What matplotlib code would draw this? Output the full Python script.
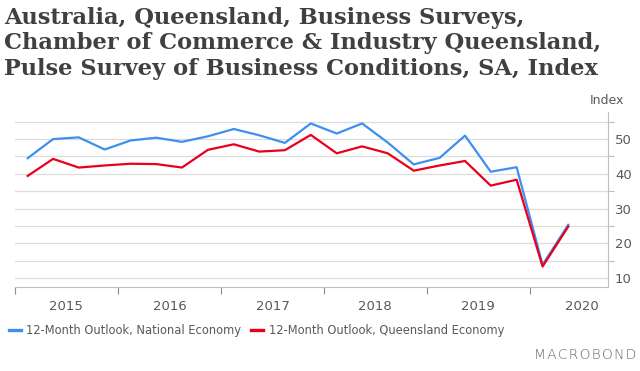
import numpy as np
import pandas as pd
import matplotlib
matplotlib.use("Agg")
import matplotlib.pyplot as plt
import matplotlib.dates as mdates
from matplotlib.ticker import MultipleLocator, NullFormatter

# Quarterly observations, 2015 Q1 .. 2020 Q2 (plotted mid-quarter)
dates = pd.date_range("2015-01-01", periods=22, freq="QS") + pd.Timedelta(days=45)

national = [44.5, 50.0, 50.5, 47.0, 49.6, 50.4, 49.2, 50.8, 52.9, 51.1, 48.9, 54.5,
            51.6, 54.5, 49.0, 42.7, 44.6, 51.0, 40.6, 41.9, 13.8, 25.3]
queensland = [39.4, 44.3, 41.8, 42.4, 42.9, 42.8, 41.8, 46.9, 48.5, 46.4, 46.8, 51.2,
              45.9, 47.9, 45.9, 40.9, 42.4, 43.7, 36.6, 38.3, 13.3, 24.8]

years = [2015, 2016, 2017, 2018, 2019, 2020]

BLUE = "#3d8ff0"
RED = "#e8001c"
GREY_TXT = "#595959"
GRID = "#dcdcdc"

fig = plt.figure(figsize=(6.4, 3.71), dpi=100)
ax = fig.add_axes([15 / 640, 1 - 287 / 371, (608 - 15) / 640, (287 - 112) / 371])

ax.plot(dates, national, color=BLUE, linewidth=1.6, label="12-Month Outlook, National Economy")
ax.plot(dates, queensland, color=RED, linewidth=1.6, label="12-Month Outlook, Queensland Economy")

ax.set_ylim(7.4, 57.8)
ax.set_xlim(pd.Timestamp("2015-01-01"), pd.Timestamp("2020-10-04"))

# y axis on the right, gridlines every 5
ax.yaxis.tick_right()
ax.yaxis.set_major_locator(MultipleLocator(10))
ax.yaxis.set_minor_locator(MultipleLocator(5))
ax.yaxis.set_minor_formatter(NullFormatter())
ax.tick_params(axis="y", which="major", length=0, pad=5, labelsize=9.5, labelcolor=GREY_TXT)
ax.tick_params(axis="y", which="minor", length=4, color="#bfbfbf", width=0.8)
ax.grid(True, axis="y", which="both", color=GRID, linewidth=0.9)
ax.set_axisbelow(True)

# x axis: ticks at year boundaries, labels mid-year
ax.xaxis.set_major_locator(mdates.YearLocator())
ax.xaxis.set_major_formatter(NullFormatter())
ax.set_xticks([pd.Timestamp(f"{y}-07-02") for y in years], minor=True)
ax.set_xticklabels([str(y) for y in years], minor=True)
ax.tick_params(axis="x", which="major", length=5, color="#8c8c8c", width=0.8)
ax.tick_params(axis="x", which="minor", length=0, pad=9, labelsize=9.5, labelcolor=GREY_TXT)

for s in ["top", "left"]:
    ax.spines[s].set_visible(False)
for s in ["right", "bottom"]:
    ax.spines[s].set_color("#bfbfbf")
    ax.spines[s].set_linewidth(0.8)

fig.text(624 / 640, 1 - 101 / 371, "Index", ha="right", va="center",
         fontsize=9, color=GREY_TXT)

title = ("Australia, Queensland, Business Surveys,\n"
         "Chamber of Commerce & Industry Queensland,\n"
         "Pulse Survey of Business Conditions, SA, Index")
fig.text(4 / 640, 1 - 7 / 371, title, ha="left", va="top", fontsize=16.2,
         fontfamily="DejaVu Serif", fontweight="bold", color="#404040", linespacing=1.2)

leg = fig.legend(loc="center left", bbox_to_anchor=(4 / 640, 1 - 330.5 / 371), ncol=2,
                 frameon=False, fontsize=8.3, handlelength=1.1, handletextpad=0.45,
                 columnspacing=0.8, borderaxespad=0)
for t in leg.get_texts():
    t.set_color(GREY_TXT)
for h in leg.get_lines():
    h.set_linewidth(2.4)

fig.text(636 / 640, 1 - 355 / 371, "\u200a".join("MACROBOND"), ha="right", va="center",
         fontsize=9.8, color="#666666", fontweight="light")

fig.savefig("out.png", dpi=100)
